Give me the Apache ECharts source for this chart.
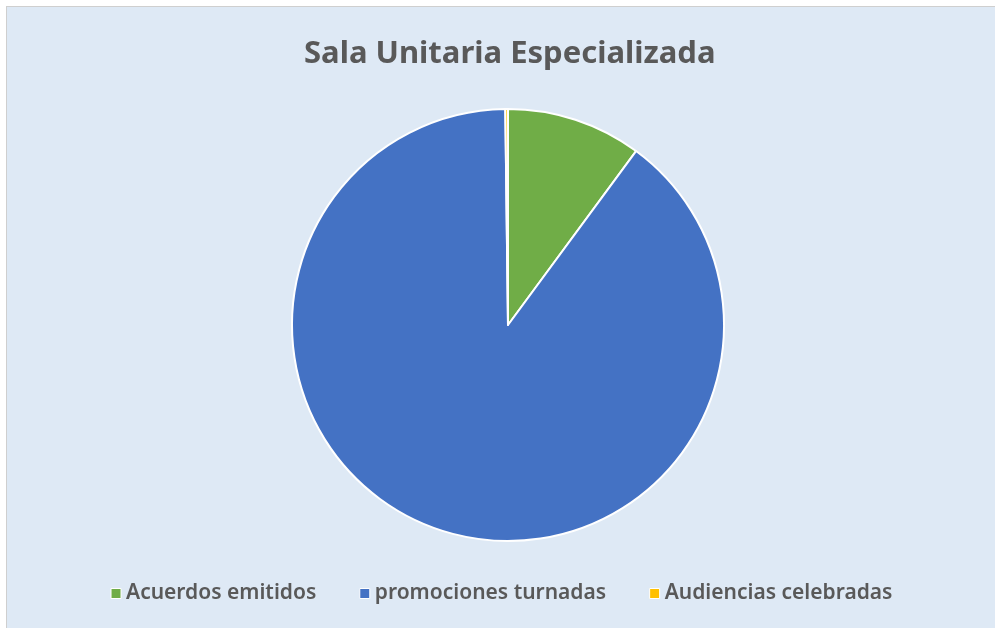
<!DOCTYPE html>
<html>
<head>
<meta charset="utf-8">
<script src="https://cdn.jsdelivr.net/npm/echarts@6/dist/echarts.min.js"></script>
<style>
  html, body { margin: 0; padding: 0; background: #ffffff; }
  #chart {
    position: absolute; left: 6px; top: 6px;
    width: 989px; height: 621px;
    background: #dee9f5;
    border-left: 1px solid #cfcfcf;
    border-top: 1px solid #cfcfcf;
  }
</style>
</head>
<body>
<div id="chart"></div>
<script>
const categories = ['Acuerdos emitidos', 'promociones turnadas', 'Audiencias celebradas'];
const values = [10.1, 89.7, 0.2];
const colors = ['#70ad47', '#4472c4', '#ffc000'];

const chart = echarts.init(document.getElementById('chart'));

const option = {
  backgroundColor: 'transparent',
  color: colors,
  title: {
    text: 'Sala Unitaria Especializada',
    left: 292,
    top: 27,
    textStyle: {
      fontFamily: 'Noto Sans',
      fontWeight: 'bold',
      fontSize: 31,
      color: '#595959',
    },
  },
  legend: {
    bottom: 19,
    left: 'center',
    itemWidth: 10,
    itemHeight: 10,
    itemGap: 43,
    icon: 'rect',
    itemStyle: { borderColor: '#ffffff', borderWidth: 1 },
    textStyle: {
      fontFamily: 'Noto Sans',
      fontWeight: 600,
      fontSize: 21,
      color: '#595959',
    },
    data: categories,
  },
  series: [
    {
      type: 'pie',
      center: [501, 318],
      radius: 216,
      startAngle: 90,
      clockwise: true,
      label: { show: false },
      labelLine: { show: false },
      emphasis: { disabled: true },
      itemStyle: { borderColor: '#ffffff', borderWidth: 2 },
      data: categories.map((name, i) => ({ name, value: values[i] })),
    },
  ],
};

chart.setOption(option);
</script>
</body>
</html>
